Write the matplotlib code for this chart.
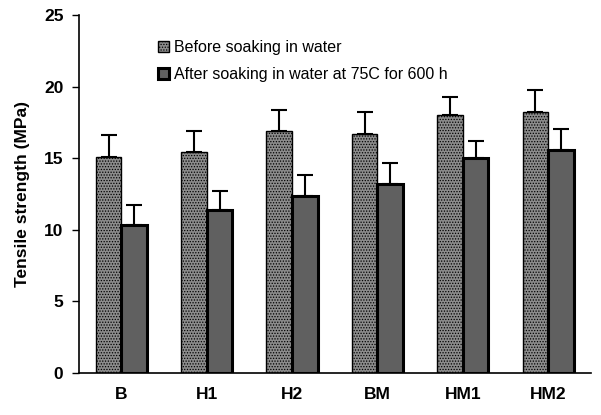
import numpy as np
import matplotlib.pyplot as plt

plt.rcParams["font.family"] = ["Liberation Sans", "DejaVu Sans"]
plt.rcParams["hatch.color"] = "#6a6a6a"
plt.rcParams["hatch.linewidth"] = 0.6

samples = ["B", "H1", "H2", "BM", "HM1", "HM2"]
before = [15.1, 15.45, 16.9, 16.7, 18.0, 18.25]
before_err = [1.5, 1.45, 1.45, 1.55, 1.25, 1.5]
after = [10.35, 11.35, 12.35, 13.2, 15.0, 15.6]
after_err = [1.4, 1.35, 1.45, 1.45, 1.2, 1.45]

x = np.arange(len(samples))
w = 0.3

fig = plt.figure(figsize=(6.01, 4.15), dpi=100)
ax = fig.add_axes([0.131, 0.101, 0.852, 0.863])

ax.bar(x - w / 2, before, w, color="#8c8c8c", edgecolor="black", linewidth=1.0,
       hatch="......", label="Before soaking in water",
       yerr=[np.zeros(len(x)), before_err], error_kw=dict(ecolor="black", elinewidth=1.5, capsize=5.5, capthick=1.5))
ax.bar(x + w / 2, after, w, color="#606060", edgecolor="black", linewidth=2.2,
       label="After soaking in water at 75C for 600 h",
       yerr=[np.zeros(len(x)), after_err], error_kw=dict(ecolor="black", elinewidth=1.5, capsize=5.5, capthick=1.5))

ax.set_xlim(-0.5, 5.5)
ax.set_ylim(0, 25)
ax.set_yticks([0, 5, 10, 15, 20, 25])
ax.set_xticks(x)
ax.set_xticklabels(samples, fontsize=12.5, fontweight="bold")
ax.tick_params(axis="x", length=0, pad=10)
ax.tick_params(axis="y", direction="out", length=5, width=1, labelsize=12.5, pad=6)
for lab in ax.get_yticklabels():
    lab.set_fontweight("bold")
ax.set_ylabel("Tensile strength (MPa)", fontsize=12.5, fontweight="bold", labelpad=10)

for s in ["top", "right"]:
    ax.spines[s].set_visible(False)
ax.spines["left"].set_linewidth(1.2)
ax.spines["bottom"].set_linewidth(1.2)

ax.legend(loc="upper left", bbox_to_anchor=(0.126, 0.97), frameon=False, fontsize=11.5,
          handlelength=0.7, handleheight=0.7, handletextpad=0.3, labelspacing=0.75)

fig.savefig("out.png", dpi=100)
